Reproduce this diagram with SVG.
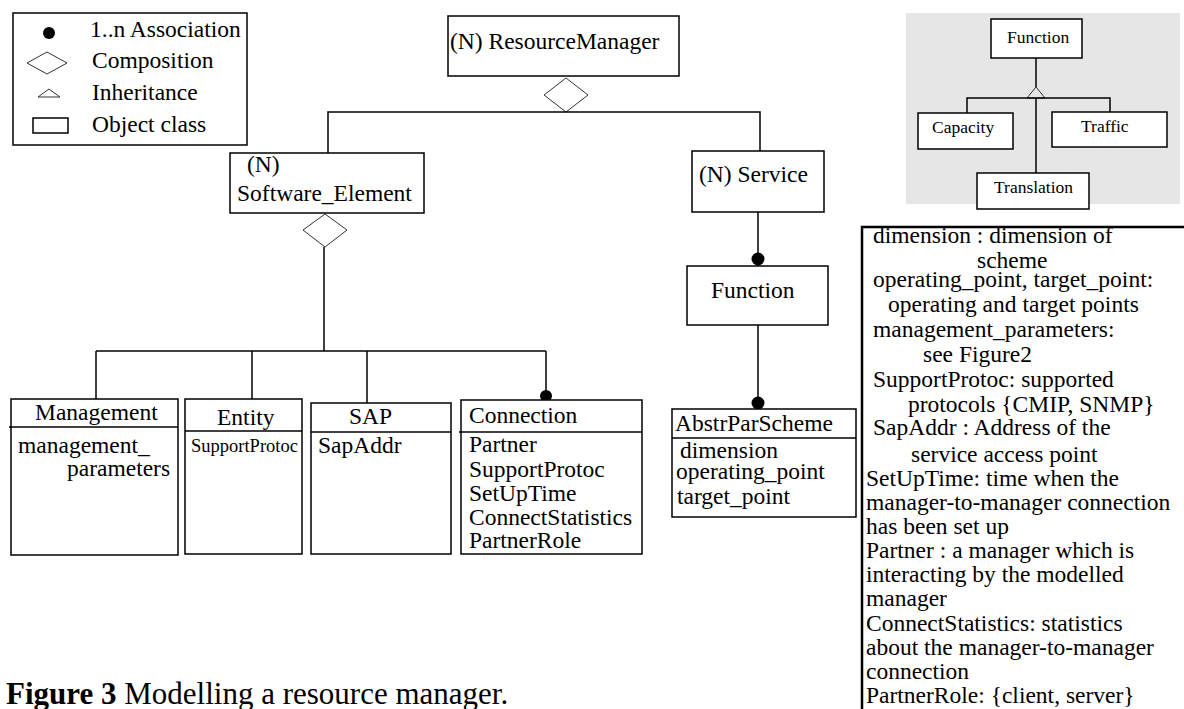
<svg xmlns="http://www.w3.org/2000/svg" width="1184" height="709" viewBox="0 0 1184 709">
<style>
text{font-family:"Liberation Serif","Times New Roman",serif;fill:#000}
.t{font-size:23.5px}
.s{font-size:18.5px}
.i{font-size:17.5px}
.box{fill:#fff;stroke:#000;stroke-width:1.5}
.ln{fill:none;stroke:#000;stroke-width:1.5}
.dia{fill:#fff;stroke:#333;stroke-width:1}
.dot{fill:#000}
</style>
<rect width="1184" height="709" fill="#fff"/>

<g id="legend">
<rect x="13" y="13" width="234" height="132" class="box"/>
<circle cx="49" cy="33" r="6" class="dot"/>
<text x="90" y="37" class="t">1..n Association</text>
<polygon points="27,63 47,52 67,63 47,74" class="dia"/>
<text x="92" y="68" class="t">Composition</text>
<polygon points="49,89 38,97 60,97" class="dia"/>
<text x="92" y="100" class="t">Inheritance</text>
<rect x="33" y="118" width="35" height="15" class="box" stroke-width="1.2"/>
<text x="92" y="132" class="t">Object class</text>
</g>

<g id="connectors">
<polygon points="544,95 566,78 588,95 566,112" class="dia"/>
<polyline points="328,153 328,112 760,112 760,151" class="ln"/>
<polygon points="303,230 325,214 347,230 325,247" class="dia"/>
<line x1="324" y1="247" x2="324" y2="351" class="ln"/>
<line x1="96" y1="351" x2="546" y2="351" class="ln"/>
<line x1="96" y1="351" x2="96" y2="399" class="ln"/>
<line x1="252" y1="351" x2="252" y2="399" class="ln"/>
<line x1="367" y1="351" x2="367" y2="403" class="ln"/>
<line x1="546" y1="351" x2="546" y2="397" class="ln"/>
<circle cx="546" cy="396" r="6" class="dot"/>
<line x1="758" y1="212" x2="758" y2="266" class="ln"/>
<circle cx="758" cy="259" r="6.5" class="dot"/>
<line x1="758" y1="325" x2="758" y2="409" class="ln"/>
<circle cx="758" cy="403" r="6.5" class="dot"/>
</g>

<g id="resource-manager">
<rect x="448" y="16" width="231" height="60" class="box"/>
<text x="450" y="49" class="t">(N) ResourceManager</text>
</g>

<g id="software-element">
<rect x="230" y="153" width="194" height="60" class="box"/>
<text x="247" y="172" class="t">(N)</text>
<text x="237" y="201" class="t">Software_Element</text>
</g>

<g id="service">
<rect x="692" y="151" width="132" height="61" class="box"/>
<text x="699" y="182" class="t">(N) Service</text>
</g>

<g id="function">
<rect x="687" y="266" width="141" height="59" class="box"/>
<text x="711" y="298" class="t">Function</text>
</g>

<g id="management">
<rect x="11" y="399" width="167" height="156" class="box"/>
<line x1="9" y1="427" x2="178" y2="427" class="ln"/>
<text x="35" y="420" class="t">Management</text>
<text x="18" y="453" class="t">management_</text>
<text x="67" y="476" class="t">parameters</text>
</g>

<g id="entity">
<rect x="185" y="399" width="117" height="155" class="box"/>
<line x1="185" y1="431" x2="302" y2="431" class="ln"/>
<text x="217" y="425" class="t">Entity</text>
<text x="191" y="452" class="s">SupportProtoc</text>
</g>

<g id="sap">
<rect x="311" y="403" width="140" height="151" class="box"/>
<line x1="311" y1="432" x2="451" y2="432" class="ln"/>
<text x="349" y="424" class="t">SAP</text>
<text x="318" y="453" class="t">SapAddr</text>
</g>

<g id="connection">
<rect x="461" y="400" width="181" height="154" class="box"/>
<line x1="459" y1="432" x2="642" y2="432" class="ln"/>
<text x="469" y="423" class="t">Connection</text>
<text x="469" y="452" class="t">Partner</text>
<text x="469" y="477" class="t">SupportProtoc</text>
<text x="469" y="501" class="t">SetUpTime</text>
<text x="469" y="525" class="t">ConnectStatistics</text>
<text x="469" y="548" class="t">PartnerRole</text>
</g>

<g id="abstr-par-scheme">
<rect x="672" y="409" width="184" height="108" class="box"/>
<line x1="672" y1="438" x2="856" y2="438" class="ln"/>
<text x="675" y="431" class="t">AbstrParScheme</text>
<text x="680" y="458" class="t">dimension</text>
<text x="676" y="479" class="t">operating_point</text>
<text x="677" y="504" class="t">target_point</text>
</g>

<g id="function-inheritance">
<rect x="906" y="13" width="274" height="191" fill="#e6e6e6"/>
<polyline points="1036,58 1036,87" class="ln" stroke-width="1.2"/>
<polygon points="1036,87 1027,98 1045,98" fill="#e6e6e6" stroke="#333" stroke-width="1"/>
<polyline points="967,113 967,98 1110,98 1110,112" class="ln" stroke-width="1.2"/>
<line x1="1036" y1="98" x2="1036" y2="173" class="ln" stroke-width="1.2"/>
<g id="inh-function">
<rect x="991" y="19" width="91" height="39" class="box" stroke-width="1.2"/>
<text x="1007" y="43" class="i">Function</text>
</g>
<g id="inh-capacity">
<rect x="918" y="113" width="95" height="36" class="box" stroke-width="1.2"/>
<text x="932" y="133" class="i">Capacity</text>
</g>
<g id="inh-traffic">
<rect x="1052" y="112" width="115" height="35" class="box" stroke-width="1.2"/>
<text x="1081" y="132" class="i">Traffic</text>
</g>
<g id="inh-translation">
<rect x="977" y="173" width="112" height="36" class="box" stroke-width="1.2"/>
<text x="994" y="193" class="i">Translation</text>
</g>
</g>

<g id="notes">
<rect x="862" y="227" width="340" height="500" fill="#fff" stroke="#000" stroke-width="2.5"/>
<text x="873" y="243" class="t">dimension : dimension of</text>
<text x="977" y="268" class="t">scheme</text>
<text x="873" y="287" class="t">operating_point, target_point:</text>
<text x="888" y="312" class="t">operating and target points</text>
<text x="873" y="337" class="t">management_parameters:</text>
<text x="923" y="362" class="t">see Figure2</text>
<text x="873" y="387" class="t">SupportProtoc: supported</text>
<text x="908" y="412" class="t">protocols {CMIP, SNMP}</text>
<text x="873" y="435" class="t">SapAddr : Address of the</text>
<text x="911" y="462" class="t">service access point</text>
<text x="866" y="486" class="t">SetUpTime: time when the</text>
<text x="866" y="510" class="t">manager-to-manager connection</text>
<text x="866" y="534" class="t">has been set up</text>
<text x="866" y="558" class="t">Partner : a manager which is</text>
<text x="866" y="582" class="t">interacting by the modelled</text>
<text x="866" y="606" class="t">manager</text>
<text x="866" y="631" class="t">ConnectStatistics: statistics</text>
<text x="866" y="655" class="t">about the manager-to-manager</text>
<text x="866" y="679" class="t">connection</text>
<text x="866" y="703" class="t">PartnerRole: {client, server}</text>
</g>

<text x="6" y="704" font-size="31"><tspan font-weight="bold">Figure 3</tspan> Modelling a resource manager.</text>
</svg>
